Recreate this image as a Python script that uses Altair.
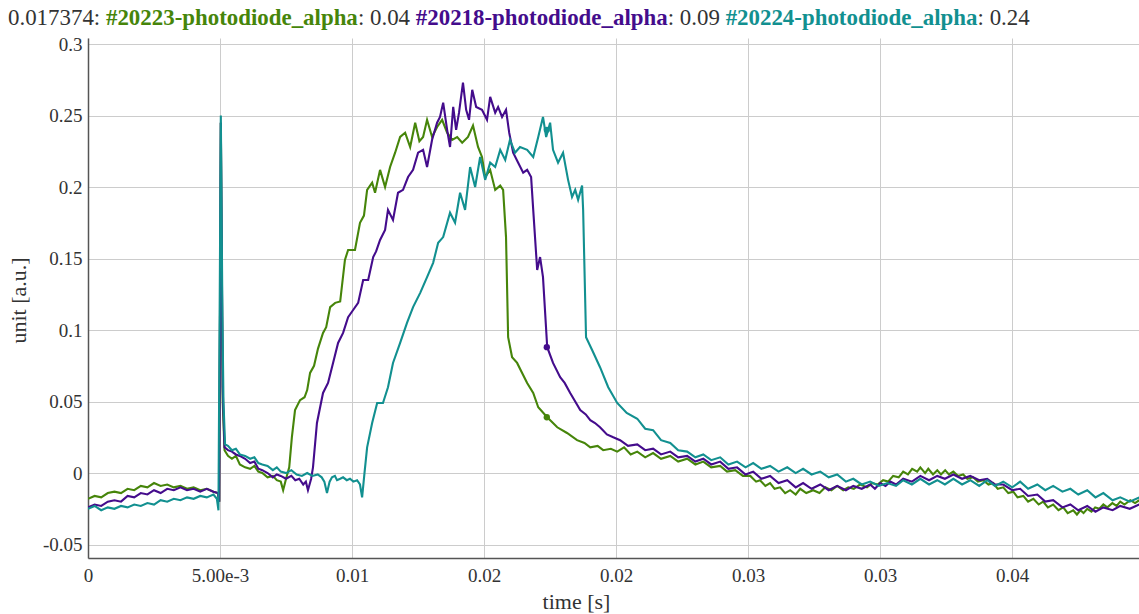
import altair as alt
import pandas as pd

# ---------------- data (time in ms, value in a.u.) ----------------
GREEN_T = [0, 0.25, 0.5, 0.75, 1.0, 1.25, 1.5, 1.75, 2.0, 2.25, 2.5, 2.75, 3.0, 3.25, 3.5, 3.75, 4.0, 4.25, 4.5, 4.75,
           4.92, 4.97, 5.03, 5.1, 5.17,
           5.3, 5.45, 5.6, 5.75, 5.95, 6.14, 6.3, 6.45, 6.6, 6.8, 7.0, 7.15, 7.3, 7.39, 7.5, 7.62, 7.72, 7.84,
           8.03, 8.2, 8.30, 8.41, 8.56, 8.71, 8.90, 9.02, 9.17, 9.36, 9.55, 9.73, 9.85, 10.11, 10.30, 10.45,
           10.57, 10.76, 10.87, 11.06, 11.25, 11.44, 11.63, 11.82, 12.01, 12.20, 12.39, 12.55, 12.69, 12.84,
           13.03, 13.22, 13.41, 13.60, 13.79, 13.98, 14.17, 14.39, 14.58, 14.77, 14.92, 15.04, 15.23, 15.42,
           15.61, 15.72, 15.83, 15.91, 16.06, 16.25, 16.44, 16.63, 16.86, 17.05, 17.39, 17.77, 18.14, 18.52,
           18.8, 19.02, 19.3, 19.51, 19.8,
           20.04, 20.3, 20.55, 20.8, 21.1, 21.4, 21.7, 22.05, 22.35, 22.69, 23.0, 23.3, 23.6, 23.94, 24.2, 24.51,
           24.8, 25.08, 25.3, 25.45, 25.65, 25.83, 26.0, 26.21, 26.4, 26.59, 26.8, 26.97, 27.2, 27.46, 27.7,
           27.92, 28.15, 28.37, 28.6, 28.79, 29.0, 29.24, 29.5, 29.70, 29.9, 30.11, 30.3, 30.49, 30.7, 30.87,
           31.05, 31.21, 31.4, 31.52, 31.7, 31.82, 32.0, 32.16, 32.3, 32.46, 32.6, 32.77, 32.95, 33.14, 33.3,
           33.52, 33.7, 33.90, 34.1, 34.28, 34.45, 34.66, 34.85, 35.04, 35.2, 35.42, 35.6, 35.80, 36.0, 36.17,
           36.35, 36.55, 36.75, 36.93, 37.1, 37.31, 37.45, 37.58, 37.7, 37.84, 38.0, 38.14, 38.3, 38.45, 38.6,
           38.79, 38.95, 39.09, 39.25, 39.47, 39.65, 39.81]
GREEN_V = [-0.018, -0.016, -0.017, -0.014, -0.013, -0.014, -0.011, -0.012, -0.009, -0.010, -0.007, -0.009, -0.008,
           -0.010, -0.009, -0.011, -0.010, -0.012, -0.011, -0.013,
           -0.014, -0.020, 0.245, 0.050, 0.016,
           0.012, 0.010, 0.012, 0.006, 0.004, 0.003, 0.005, 0.001, 0.000, -0.003, -0.002, -0.005, -0.006, -0.012,
           -0.004, 0.004, 0.025, 0.044,
           0.051, 0.053, 0.058, 0.070, 0.075, 0.087, 0.098, 0.102, 0.116, 0.119, 0.120, 0.149, 0.156, 0.156,
           0.175, 0.180, 0.198, 0.203, 0.196, 0.212, 0.200, 0.214, 0.224, 0.235, 0.238, 0.228, 0.245, 0.232,
           0.235, 0.247, 0.235, 0.242, 0.247, 0.238, 0.233, 0.235, 0.231, 0.235, 0.243, 0.228, 0.221, 0.207,
           0.212, 0.198, 0.201, 0.198, 0.165, 0.095, 0.081, 0.077, 0.070, 0.063, 0.056, 0.046, 0.039, 0.032,
           0.028, 0.023, 0.021, 0.018, 0.019, 0.016, 0.017,
           0.015, 0.018, 0.013, 0.015, 0.011, 0.014, 0.010, 0.012, 0.008, 0.010, 0.006, 0.008, 0.004, 0.005,
           0.001, 0.002, -0.002, -0.002, -0.006, -0.005, -0.009, -0.007, -0.011, -0.010, -0.014, -0.012, -0.015,
           -0.011, -0.014, -0.012, -0.014, -0.010, -0.012, -0.009, -0.012, -0.010, -0.011, -0.008, -0.010,
           -0.007, -0.008, -0.005, -0.006, -0.002, -0.003, 0.001, -0.001, 0.003, 0.001, 0.004, 0.000, 0.003,
           -0.001, 0.002, -0.001, 0.002, -0.001, 0.001, -0.002, -0.001, -0.004, -0.003, -0.006, -0.005, -0.008,
           -0.007, -0.011, -0.010, -0.014, -0.013, -0.017, -0.016, -0.020, -0.018, -0.022, -0.020, -0.024,
           -0.022, -0.026, -0.024, -0.028, -0.026, -0.029, -0.026, -0.028, -0.025, -0.027, -0.024, -0.025,
           -0.022, -0.024, -0.021, -0.023, -0.020, -0.022, -0.019, -0.021, -0.019]

PURPLE_T = [0, 0.25, 0.5, 0.75, 1.0, 1.25, 1.5, 1.75, 2.0, 2.25, 2.5, 2.75, 3.0, 3.25, 3.5, 3.75, 4.0, 4.25, 4.5, 4.75,
            4.92, 4.97, 5.03, 5.1, 5.17,
            5.3, 5.45, 5.6, 5.75, 5.95, 6.14, 6.3, 6.45, 6.6, 6.8, 7.0, 7.15, 7.3, 7.5, 7.7, 7.85, 8.0, 8.15, 8.25,
            8.33, 8.45, 8.52, 8.67, 8.79, 8.90, 9.09, 9.28, 9.47, 9.66, 9.85, 10.04, 10.23, 10.42, 10.61, 10.80,
            10.91, 11.06, 11.25, 11.36, 11.55, 11.74, 11.93, 12.12, 12.31, 12.50, 12.69, 12.84, 13.03, 13.22,
            13.33, 13.45, 13.60, 13.71, 13.83, 13.94, 14.05, 14.20, 14.32, 14.43, 14.55, 14.70, 14.92, 15.11,
            15.23, 15.42, 15.53, 15.68, 15.83, 15.95, 16.10, 16.29, 16.48, 16.63, 16.78, 16.86, 17.01, 17.12,
            17.23, 17.39, 17.61, 17.88, 18.05, 18.26, 18.45, 18.64, 18.85, 19.02, 19.2, 19.39, 19.65, 19.89,
            20.15, 20.45, 20.8, 21.1, 21.4, 21.7, 22.05, 22.35, 22.69, 23.0, 23.3, 23.6, 23.94, 24.25, 24.58,
            24.9, 25.19, 25.5, 25.83, 26.15, 26.48, 26.8, 27.08, 27.4, 27.73, 28.05, 28.37, 28.7, 28.98, 29.3,
            29.62, 29.8, 30.0, 30.2, 30.38, 30.6, 30.87, 31.2, 31.52, 31.85, 32.16, 32.45, 32.77, 33.1, 33.41,
            33.75, 34.05, 34.35, 34.66, 35.0, 35.30, 35.6, 35.95, 36.25, 36.55, 36.9, 37.20, 37.5, 37.84, 38.15,
            38.45, 38.8, 39.09, 39.45, 39.81]
PURPLE_V = [-0.024, -0.022, -0.023, -0.020, -0.019, -0.020, -0.016, -0.017, -0.014, -0.015, -0.012, -0.014, -0.011,
            -0.012, -0.010, -0.012, -0.011, -0.013, -0.011, -0.013,
            -0.014, -0.020, 0.245, 0.060, 0.018,
            0.016, 0.015, 0.013, 0.012, 0.010, 0.007, 0.008, 0.003, 0.002, 0.000, -0.003, -0.001, -0.002, -0.004,
            -0.002, -0.005, -0.004, -0.008, -0.006,
            -0.012, -0.004, 0.004, 0.035, 0.046, 0.056, 0.063, 0.077, 0.091, 0.098, 0.109, 0.114, 0.119, 0.135,
            0.135, 0.151, 0.155, 0.163, 0.170, 0.184, 0.177, 0.196, 0.198, 0.207, 0.212, 0.224, 0.226, 0.214,
            0.233, 0.245, 0.249, 0.259, 0.240, 0.228, 0.256, 0.240, 0.252, 0.273, 0.254, 0.247, 0.268, 0.256,
            0.254, 0.247, 0.263, 0.252, 0.256, 0.249, 0.254, 0.238, 0.224, 0.217, 0.210, 0.212, 0.207, 0.184,
            0.142, 0.151, 0.137, 0.088, 0.077, 0.067, 0.063, 0.056, 0.050, 0.044, 0.041, 0.037, 0.035, 0.032,
            0.027, 0.025,
            0.023, 0.019, 0.020, 0.016, 0.017, 0.013, 0.015, 0.011, 0.012, 0.008, 0.010, 0.006, 0.008, 0.003,
            0.004, -0.001, 0.001, -0.004, -0.002, -0.007, -0.005, -0.010, -0.007, -0.011, -0.008, -0.012, -0.009,
            -0.012, -0.009, -0.011, -0.008, -0.011, -0.007, -0.009, -0.006, -0.008, -0.004, -0.006, -0.002,
            -0.005, -0.002, -0.004, -0.001, -0.004, -0.002, -0.005, -0.004, -0.008, -0.008, -0.012, -0.011,
            -0.016, -0.015, -0.020, -0.019, -0.024, -0.022, -0.026, -0.023, -0.027, -0.024, -0.026, -0.023,
            -0.025, -0.022]

TEAL_T = [0, 0.25, 0.5, 0.75, 1.0, 1.25, 1.5, 1.75, 2.0, 2.25, 2.5, 2.75, 3.0, 3.25, 3.5, 3.75, 4.0, 4.25, 4.5, 4.75,
          4.88, 4.94, 5.03, 5.09, 5.13, 5.19,
          5.3, 5.45, 5.6, 5.75, 5.95, 6.14, 6.3, 6.45, 6.6, 6.8, 7.0, 7.15, 7.3, 7.5, 7.7, 7.9, 8.1, 8.3, 8.5,
          8.7, 8.85, 8.95, 9.05, 9.15, 9.24, 9.35, 9.43, 9.55, 9.66, 9.8, 9.92, 10.05, 10.19, 10.3, 10.38,
          10.47, 10.57, 10.76, 10.95, 11.17, 11.36, 11.55, 11.82, 12.08, 12.31, 12.58, 12.84, 13.07, 13.26,
          13.45, 13.71, 13.90, 14.09, 14.28, 14.47, 14.66, 14.85, 15.04, 15.23, 15.42, 15.61, 15.80, 15.98,
          16.17, 16.36, 16.63, 16.86, 17.05, 17.23, 17.35, 17.50, 17.61, 17.80, 17.99, 18.18, 18.33, 18.45,
          18.56, 18.71, 18.75, 18.86, 19.09, 19.39, 19.70,
          20.04, 20.4, 20.8, 21.1, 21.4, 21.7, 22.05, 22.35, 22.69, 23.0, 23.3, 23.6, 23.94, 24.25, 24.58, 24.9,
          25.19, 25.5, 25.83, 26.15, 26.48, 26.8, 27.08, 27.4, 27.73, 28.05, 28.37, 28.7, 28.98, 29.3, 29.62,
          29.95, 30.27, 30.6, 30.87, 31.2, 31.52, 31.85, 32.16, 32.45, 32.77, 33.1, 33.41, 33.75, 34.05, 34.35,
          34.66, 35.0, 35.30, 35.6, 35.95, 36.25, 36.55, 36.9, 37.20, 37.5, 37.84, 38.15, 38.45, 38.8, 39.09,
          39.45, 39.81]
TEAL_V = [-0.025, -0.023, -0.026, -0.024, -0.025, -0.023, -0.024, -0.022, -0.023, -0.021, -0.022, -0.019, -0.020,
          -0.018, -0.019, -0.017, -0.018, -0.016, -0.017, -0.015,
          -0.018, -0.026, 0.250, 0.110, 0.050, 0.020,
          0.019, 0.016, 0.017, 0.013, 0.012, 0.010, 0.011, 0.007, 0.006, 0.005, 0.002, 0.004, 0.001, 0.000,
          0.002, -0.001, -0.002, 0.000, -0.002, -0.001, -0.003, -0.006, -0.014, -0.006, -0.003, -0.002, -0.005,
          -0.004, -0.003, -0.005, -0.004, -0.006, -0.005, -0.008, -0.017,
          0.000, 0.018, 0.035, 0.049, 0.049, 0.060, 0.077, 0.091, 0.105, 0.116, 0.126, 0.137, 0.147, 0.161,
          0.165, 0.182, 0.175, 0.196, 0.184, 0.214, 0.200, 0.221, 0.205, 0.217, 0.214, 0.226, 0.219, 0.233,
          0.224, 0.228, 0.226, 0.221, 0.235, 0.249, 0.235, 0.245, 0.226, 0.217, 0.224, 0.205, 0.193, 0.198,
          0.191, 0.201, 0.184, 0.095, 0.086, 0.074, 0.060,
          0.049, 0.042, 0.038, 0.031, 0.030, 0.023, 0.021, 0.016, 0.015, 0.011, 0.013, 0.009, 0.011, 0.006,
          0.008, 0.004, 0.007, 0.003, 0.005, 0.001, 0.004, 0.000, 0.003, -0.001, 0.001, -0.003, -0.001, -0.006,
          -0.004, -0.008, -0.006, -0.009, -0.007, -0.009, -0.005, -0.008, -0.004, -0.008, -0.005, -0.008,
          -0.004, -0.008, -0.005, -0.009, -0.005, -0.009, -0.006, -0.010, -0.006, -0.011, -0.008, -0.012,
          -0.009, -0.013, -0.011, -0.015, -0.012, -0.017, -0.014, -0.019, -0.017, -0.020, -0.017]

SERIES_NAMES = ["#20223-photodiode_alpha", "#20218-photodiode_alpha", "#20224-photodiode_alpha"]
SERIES_COLORS = ["#46850a", "#440c8c", "#129090"]
HOVER_TIME = 0.017374
HOVER_VALUES = [0.039, 0.088, 0.240]
LEGEND_VALUES = ["0.04", "0.09", "0.24"]

X_TICKS = [0, 0.005, 0.01, 0.015, 0.02, 0.025, 0.03, 0.035]
X_TICK_LABELS = ["0", "5.00e-3", "0.01", "0.02", "0.02", "0.03", "0.03", "0.04"]
Y_TICKS = [-0.05, 0, 0.05, 0.1, 0.15, 0.2, 0.25, 0.3]
Y_TICK_LABELS = ["-0.05", "0", "0.05", "0.1", "0.15", "0.2", "0.25", "0.3"]

X_DOMAIN = [0, 0.0398]
Y_DOMAIN = [-0.0594, 0.3042]

# ---------------- layout ----------------
PAD_L, PAD_T, PAD_R, PAD_B = 88, 38, 0, 56
W, H = 1139 - PAD_L - PAD_R, 614 - PAD_T - PAD_B
FONT = "Liberation Serif"
TEXT_COLOR = "#333333"


def label_expr(ticks, labels):
    expr = f"'{labels[-1]}'"
    for i in range(len(ticks) - 2, -1, -1):
        mid = (ticks[i] + ticks[i + 1]) / 2
        expr = f"datum.value < {mid} ? '{labels[i]}' : ({expr})"
    return expr


x_scale = alt.Scale(domain=X_DOMAIN, nice=False, zero=False)
y_scale = alt.Scale(domain=Y_DOMAIN, nice=False, zero=False)

x_axis = alt.Axis(values=X_TICKS, labelExpr=label_expr(X_TICKS, X_TICK_LABELS), title="time [s]",
                  grid=True, ticks=False, labelFlush=False, labelPadding=8, labelOverlap=False,
                  titleX=488, titleY=43, titleBaseline="middle", titleAlign="center")
y_axis = alt.Axis(values=Y_TICKS, labelExpr=label_expr(Y_TICKS, Y_TICK_LABELS), title="unit [a.u.]",
                  grid=True, ticks=False, labelPadding=6, labelFlush=False, labelOverlap=False,
                  titleAngle=270, titleX=-70, titleY=262, titleAlign="center", titleBaseline="middle")


def series_df(t_ms, v, name):
    return pd.DataFrame({"t": [x / 1000.0 for x in t_ms], "v": v, "s": name})


datasets = [series_df(GREEN_T, GREEN_V, SERIES_NAMES[0]),
            series_df(PURPLE_T, PURPLE_V, SERIES_NAMES[1]),
            series_df(TEAL_T, TEAL_V, SERIES_NAMES[2])]

layers = []
for i, df in enumerate(datasets):
    layers.append(
        alt.Chart(df).mark_line(strokeWidth=2.1, clip=True, color=SERIES_COLORS[i]).encode(
            x=alt.X("t:Q", scale=x_scale, axis=x_axis),
            y=alt.Y("v:Q", scale=y_scale, axis=y_axis),
        )
    )

hover_df = pd.DataFrame({"t": [HOVER_TIME] * 3, "v": HOVER_VALUES, "c": SERIES_COLORS})
layers.append(
    alt.Chart(hover_df).mark_point(filled=True, size=40, opacity=1).encode(
        x=alt.X("t:Q", scale=x_scale, axis=x_axis),
        y=alt.Y("v:Q", scale=y_scale, axis=y_axis),
        color=alt.Color("c:N", scale=None),
    )
)

# ---------------- legend line above the plot ----------------
REG_W = {"0": .5, "1": .5, "2": .5, "3": .5, "4": .5, "5": .5, "6": .5, "7": .5, "8": .5, "9": .5,
         ".": .25, ":": .278, " ": .25}
BOLD_W = {"#": .5, "-": .333, "p": .556, "h": .556, "o": .5, "t": .333, "d": .556, "i": .278, "e": .444,
          "_": .5, "a": .5, "l": .278, "0": .5, "1": .5, "2": .5, "3": .5, "4": .5, "5": .5, "6": .5, "7": .5,
          "8": .5, "9": .5}
TITLE_SIZE = 22.9
pieces = [(f"{HOVER_TIME}: ", "normal", TEXT_COLOR)]
for i in range(3):
    pieces.append((SERIES_NAMES[i], "bold", SERIES_COLORS[i]))
    pieces.append((f": {LEGEND_VALUES[i]}" + (" " if i < 2 else ""), "normal", TEXT_COLOR))

xpos = 8 - PAD_L
dummy = pd.DataFrame({"a": [0]})
for txt, weight, col in pieces:
    table = BOLD_W if weight == "bold" else REG_W
    layers.append(
        alt.Chart(dummy).mark_text(align="left", baseline="middle", font=FONT, fontSize=TITLE_SIZE,
                                   fontWeight=weight, color=col).encode(
            x=alt.value(xpos), y=alt.value(18 - PAD_T), text=alt.value(txt.rstrip())
        )
    )
    xpos += sum(table.get(ch, .5) for ch in txt) * TITLE_SIZE

chart = alt.layer(*layers).properties(
    width=W, height=H,
    autosize=alt.AutoSizeParams(type="none"),
    padding={"left": PAD_L, "top": PAD_T, "right": PAD_R, "bottom": PAD_B},
    background="white",
).configure_view(stroke=None).configure_axis(
    labelFont=FONT, labelFontSize=19, labelColor=TEXT_COLOR,
    titleFont=FONT, titleFontSize=22, titleColor=TEXT_COLOR, titleFontWeight="normal",
    gridColor="#cccccc", gridWidth=1, domainColor="#555555", domainWidth=1.5,
)

chart.save("out.html", embed_options={"renderer": "svg", "actions": False})
